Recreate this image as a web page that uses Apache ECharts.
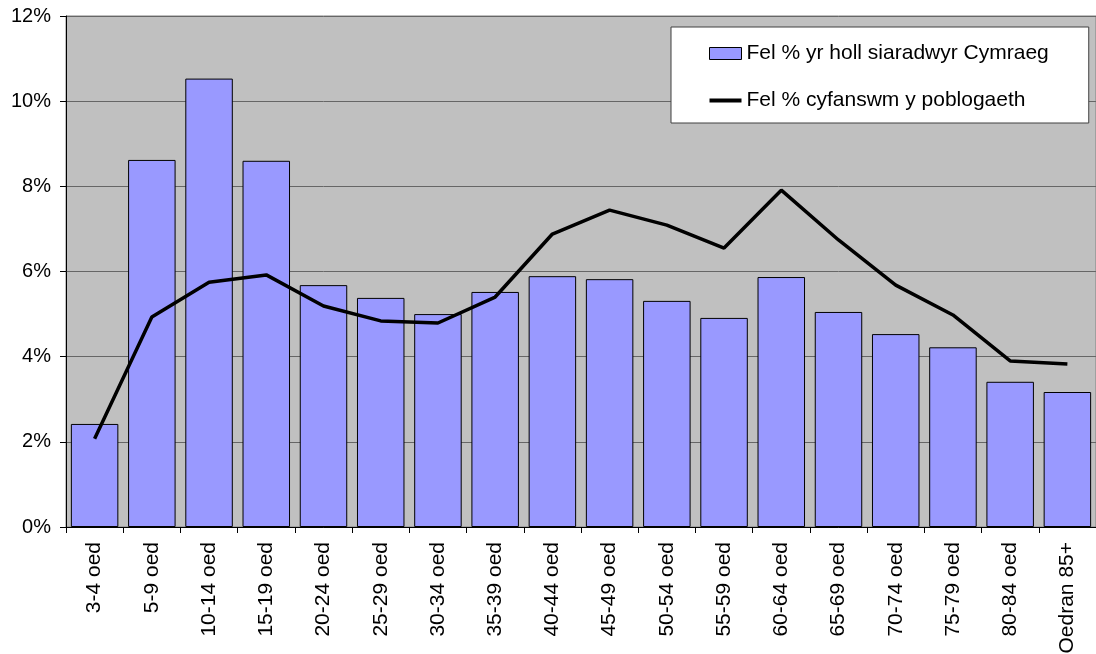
<!DOCTYPE html>
<html>
<head>
<meta charset="utf-8">
<script src="https://cdn.jsdelivr.net/npm/echarts@6/dist/echarts.min.js"></script>
<style>html,body{margin:0;padding:0;background:#fff}#c{width:1096px;height:654px}</style>
</head>
<body>
<div id="c"></div>
<script>
const categories = ['3-4 oed','5-9 oed','10-14 oed','15-19 oed','20-24 oed','25-29 oed','30-34 oed','35-39 oed','40-44 oed','45-49 oed','50-54 oed','55-59 oed','60-64 oed','65-69 oed','70-74 oed','75-79 oed','80-84 oed','Oedran 85+'];
const barName = 'Fel % yr holl siaradwyr Cymraeg';
const lineName = 'Fel % cyfanswm y poblogaeth';
const barValues = [2.42, 8.62, 10.53, 8.60, 5.68, 5.38, 5.00, 5.52, 5.89, 5.82, 5.31, 4.91, 5.87, 5.05, 4.53, 4.22, 3.41, 3.17];
const lineValues = [2.07, 4.93, 5.75, 5.92, 5.19, 4.84, 4.79, 5.40, 6.88, 7.44, 7.09, 6.55, 7.91, 6.74, 5.68, 4.98, 3.90, 3.83];
const yTicks = [0, 2, 4, 6, 8, 10, 12];

const font = 'Liberation Sans, Arial, sans-serif';
const chart = echarts.init(document.getElementById('c'), null, {renderer: 'canvas'});
chart.setOption({
  animation: false,
  textStyle: {fontFamily: font},
  grid: {left: 66, right: 0, top: 16, bottom: 127, outerBoundsMode: 'none', containLabel: false,
         show: true, backgroundColor: '#c0c0c0', borderColor: '#808080', borderWidth: 1},
  legend: {
    orient: 'vertical', left: 671, top: 27,
    backgroundColor: '#fff', borderColor: '#404040', borderWidth: 1,
    padding: [16, 40, 12, 38], itemGap: 26,
    textStyle: {fontFamily: font, fontSize: 21, color: '#000'},
    data: [
      {name: barName, icon: 'rect', itemStyle: {color: '#9999ff', borderColor: '#000', borderWidth: 1}},
      {name: lineName, icon: 'path://M0,0 L32,0 L32,4 L0,4 Z', itemStyle: {color: '#000', borderWidth: 0}}
    ],
    itemWidth: 32, itemHeight: 12
  },
  xAxis: {
    type: 'category', data: categories,
    boundaryGap: true,
    axisLine: {lineStyle: {color: '#000', width: 1}},
    axisTick: {show: true, length: 6, alignWithLabel: false, lineStyle: {color: '#000'}},
    axisLabel: {rotate: 90, fontSize: 21, color: '#000', margin: 15, interval: 0, fontFamily: font}
  },
  yAxis: {
    type: 'value', min: yTicks[0], max: yTicks[yTicks.length - 1], interval: 2,
    axisLine: {show: true, lineStyle: {color: '#000'}},
    axisTick: {show: true, length: 6, lineStyle: {color: '#000'}},
    axisLabel: {formatter: v => v + '%', fontSize: 20, color: '#000', margin: 15, fontFamily: font},
    splitLine: {show: true, lineStyle: {color: '#666', width: 1}}
  },
  series: [
    {name: barName, type: 'bar', data: barValues, barCategoryGap: '17%',
     itemStyle: {color: '#9999ff', borderColor: '#000', borderWidth: 1}},
    {name: lineName, type: 'line', data: lineValues, symbol: 'none', showSymbol: false,
     lineStyle: {color: '#000', width: 3.5}, itemStyle: {color: '#000'}}
  ]
});
</script>
</body>
</html>
